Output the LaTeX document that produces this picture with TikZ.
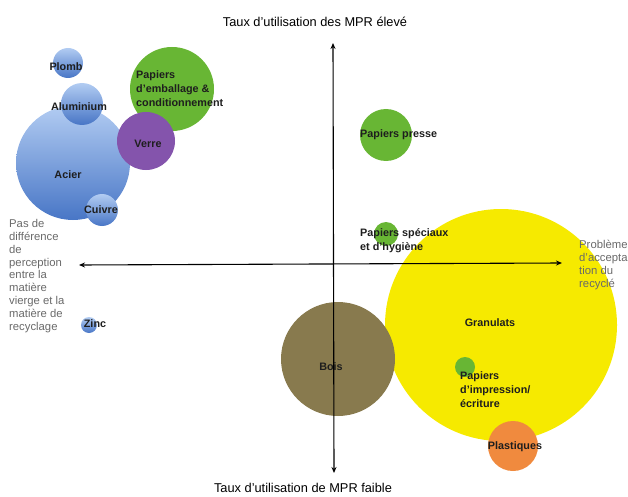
\documentclass[tikz,border=0pt]{standalone}
\usepackage{fontspec}
\setmainfont{Liberation Sans}
\usepackage{xcolor}
\usetikzlibrary{arrows.meta,positioning}

\definecolor{metaltop}{RGB}{178,204,242}
\definecolor{metalbot}{RGB}{72,118,198}
\definecolor{papergreen}{RGB}{104,182,52}
\definecolor{glasspurple}{RGB}{132,84,172}
\definecolor{granyellow}{RGB}{246,234,0}
\definecolor{woodolive}{RGB}{136,122,78}
\definecolor{plastorange}{RGB}{240,138,62}
\definecolor{sidegray}{RGB}{105,105,105}
\definecolor{lbltext}{RGB}{30,30,30}

\begin{document}
\begin{tikzpicture}[x=1pt, y=-1pt,
    bubble/.style={circle, inner sep=0pt, draw=none, minimum size=2*#1pt},
    metal/.style={bubble=#1, top color=metaltop, bottom color=metalbot},
    paper/.style={bubble=#1, fill=papergreen},
    lbl/.style={font=\fontsize{10.8}{14}\selectfont\bfseries, text=lbltext, inner sep=0pt, align=left},
    side/.style={font=\fontsize{11.3}{12.9}\selectfont, text=sidegray, inner sep=0pt, align=left, anchor=north west},
    axislbl/.style={font=\fontsize{12.8}{14}\selectfont, inner sep=0pt},
    axis/.style={{Stealth[length=6pt,width=5pt]}-{Stealth[length=6pt,width=5pt]}, line width=1.1pt}
]
\useasboundingbox (0,0) rectangle (628,497);

% Metals
\node[metal=57] (acier) at (73,163) {};
\node[metal=15] (plomb) at (68,63) {};
\node[metal=21] (alu) at (82,104) {};
\node[metal=16] (cuivre) at (102,210) {};
\node[metal=8] (zinc) at (89,325) {};

% Papers and glass
\node[paper=42] (emballage) at (172,89) {};
\node[bubble=29, fill=glasspurple] (verre) at (146,141) {};
\node[paper=26] (presse) at (386,135) {};

% Granulates, wood, plastics
\node[bubble=116, fill=granyellow] (granulats) at (501,325) {};
\node[paper=12] (speciaux) at (386,234) {};
\node[paper=10] (impression) at (465,367) {};
\node[bubble=57, fill=woodolive] (bois) at (338,359) {};
\node[bubble=25, fill=plastorange] (plastiques) at (513,446) {};

% Bubble labels
\node[lbl] (plombtxt) at (66,67) {Plomb};
\node[lbl] (alutxt) at (79,107) {Aluminium};
\node[lbl] (aciertxt) at (68,175) {Acier};
\node[lbl] (cuivretxt) at (101,210) {Cuivre};
\node[lbl] (zinctxt) at (95,324) {Zinc};
\node[lbl, anchor=west] (emballagetxt) at (136,89) {Papiers\\d'emballage \&\\conditionnement};
\node[lbl] (verretxt) at (148,144) {Verre};
\node[lbl, anchor=west] (pressetxt) at (360,135) {Papiers presse};
\node[lbl, anchor=west] (speciauxtxt) at (360,241) {Papiers spéciaux\\et d'hygiène};
\node[lbl] (granulatstxt) at (490,323) {Granulats};
\node[lbl, anchor=west] (impressiontxt) at (460,390) {Papiers\\d'impression/\\écriture};
\node[lbl] (boistxt) at (331,367) {Bois};
\node[lbl] (plastiquestxt) at (515,447) {Plastiques};

% Axes
\coordinate (ytop) at (333,43);
\coordinate (ybot) at (334,473);
\coordinate (xleft) at (79,265);
\coordinate (xright) at (562,263);
\draw[axis] (ybot) -- (ytop);
\draw[axis] (xleft) -- (xright);

% Axis labels
\node[axislbl] (high) at (315,22) {Taux d'utilisation des MPR élevé};
\node[axislbl] (low) at (303,488) {Taux d'utilisation de MPR faible};
\node[side] (leftlbl) at (9,219) {Pas de\\différence\\de\\perception\\entre la\\matière\\vierge et la\\matière de\\recyclage};
\node[side] (rightlbl) at (579,240) {Problème\\d'accepta\\tion du\\recyclé};

\end{tikzpicture}
\end{document}
